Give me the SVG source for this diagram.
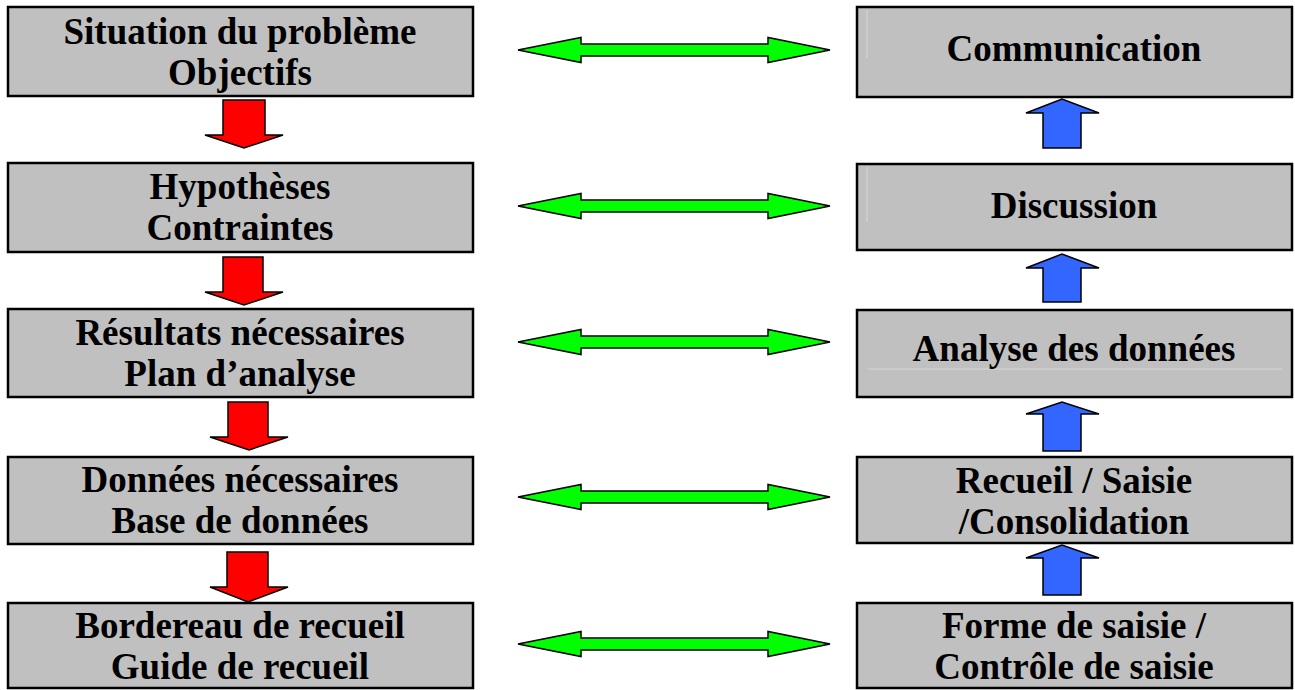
<svg xmlns="http://www.w3.org/2000/svg" width="1295" height="690" viewBox="0 0 1295 690">
<style>
.box{fill:#C0C0C0;stroke:#000;stroke-width:2.5}
.t{font-family:'Liberation Serif','DejaVu Serif',serif;font-weight:700;font-size:37px;fill:#000;text-anchor:middle}
.red{fill:#FF0000;stroke:#000;stroke-width:1.5;stroke-linejoin:miter}
.blue{fill:#3366FF;stroke:#000;stroke-width:1.5}
.green{fill:#00FF00;stroke:#000;stroke-width:1.5}
.faint{stroke:#D8D8D8;stroke-width:1;fill:none}
</style>
<rect width="1295" height="690" fill="#fff"/>
<g id="n1"><rect class="box" x="8" y="7" width="465" height="89"/><text class="t" x="240" y="44">Situation du problème</text><text class="t" x="240" y="85">Objectifs</text></g>
<g id="n2"><rect class="box" x="8" y="163" width="465" height="89"/><text class="t" x="240" y="199">Hypothèses</text><text class="t" x="240" y="240">Contraintes</text></g>
<g id="n3"><rect class="box" x="8" y="309" width="465" height="88"/><text class="t" x="240" y="345">Résultats nécessaires</text><text class="t" x="240" y="386">Plan d’analyse</text></g>
<g id="n4"><rect class="box" x="8" y="457" width="465" height="87"/><text class="t" x="240" y="492">Données nécessaires</text><text class="t" x="240" y="533">Base de données</text></g>
<g id="n5"><rect class="box" x="8" y="603" width="465" height="85"/><text class="t" x="240" y="638">Bordereau de recueil</text><text class="t" x="240" y="679">Guide de recueil</text></g>
<g id="m1"><rect class="box" x="857" y="7" width="435" height="90"/><line class="faint" x1="867" y1="10" x2="867" y2="58"/><text class="t" x="1074" y="61">Communication</text></g>
<g id="m2"><rect class="box" x="857" y="164" width="435" height="86"/><line class="faint" x1="867" y1="167" x2="867" y2="222"/><text class="t" x="1074" y="218">Discussion</text></g>
<g id="m3"><rect class="box" x="857" y="310" width="435" height="87"/><line class="faint" x1="868" y1="369" x2="1282" y2="369"/><text class="t" x="1074" y="361">Analyse des données</text></g>
<g id="m4"><rect class="box" x="857" y="457" width="435" height="86"/><text class="t" x="1074" y="493">Recueil / Saisie</text><text class="t" x="1074" y="534">/Consolidation</text></g>
<g id="m5"><rect class="box" x="857" y="603" width="435" height="85"/><text class="t" x="1074" y="638">Forme de saisie /</text><text class="t" x="1074" y="679">Contrôle de saisie</text></g>
<g id="connectors">
<polygon class="red" points="223,100 265,100 265,135 283,135 244,148 205,135 223,135"/>
<polygon class="red" points="223,257 263,257 263,292 283,292 244,305 205,292 223,292"/>
<polygon class="red" points="228,402 268,402 268,437 288,437 249,450 210,437 228,437"/>
<polygon class="red" points="227,552 268,552 268,587 288,587 248,602 210,587 227,587"/>
<polygon class="blue" points="1043,148 1081,148 1081,113 1099,113 1062,99 1026,113 1043,113"/>
<polygon class="blue" points="1043,302 1081,302 1081,268 1099,268 1062,254 1026,268 1043,268"/>
<polygon class="blue" points="1043,451 1081,451 1081,414 1099,414 1062,402 1026,414 1043,414"/>
<polygon class="blue" points="1043,595 1081,595 1081,558 1099,558 1062,545 1026,558 1043,558"/>
<polygon class="green" points="518,50 581,37.5 581,44 768,44 768,37.5 830,50 768,62.5 768,56 581,56 581,62.5"/>
<polygon class="green" points="518,206 581,193.5 581,200 768,200 768,193.5 830,206 768,218.5 768,212 581,212 581,218.5"/>
<polygon class="green" points="518,342 581,329.5 581,336 768,336 768,329.5 830,342 768,354.5 768,348 581,348 581,354.5"/>
<polygon class="green" points="518,497 581,484.5 581,491 768,491 768,484.5 830,497 768,509.5 768,503 581,503 581,509.5"/>
<polygon class="green" points="518,644 581,631.5 581,638 768,638 768,631.5 830,644 768,656.5 768,650 581,650 581,656.5"/>
</g>
</svg>
